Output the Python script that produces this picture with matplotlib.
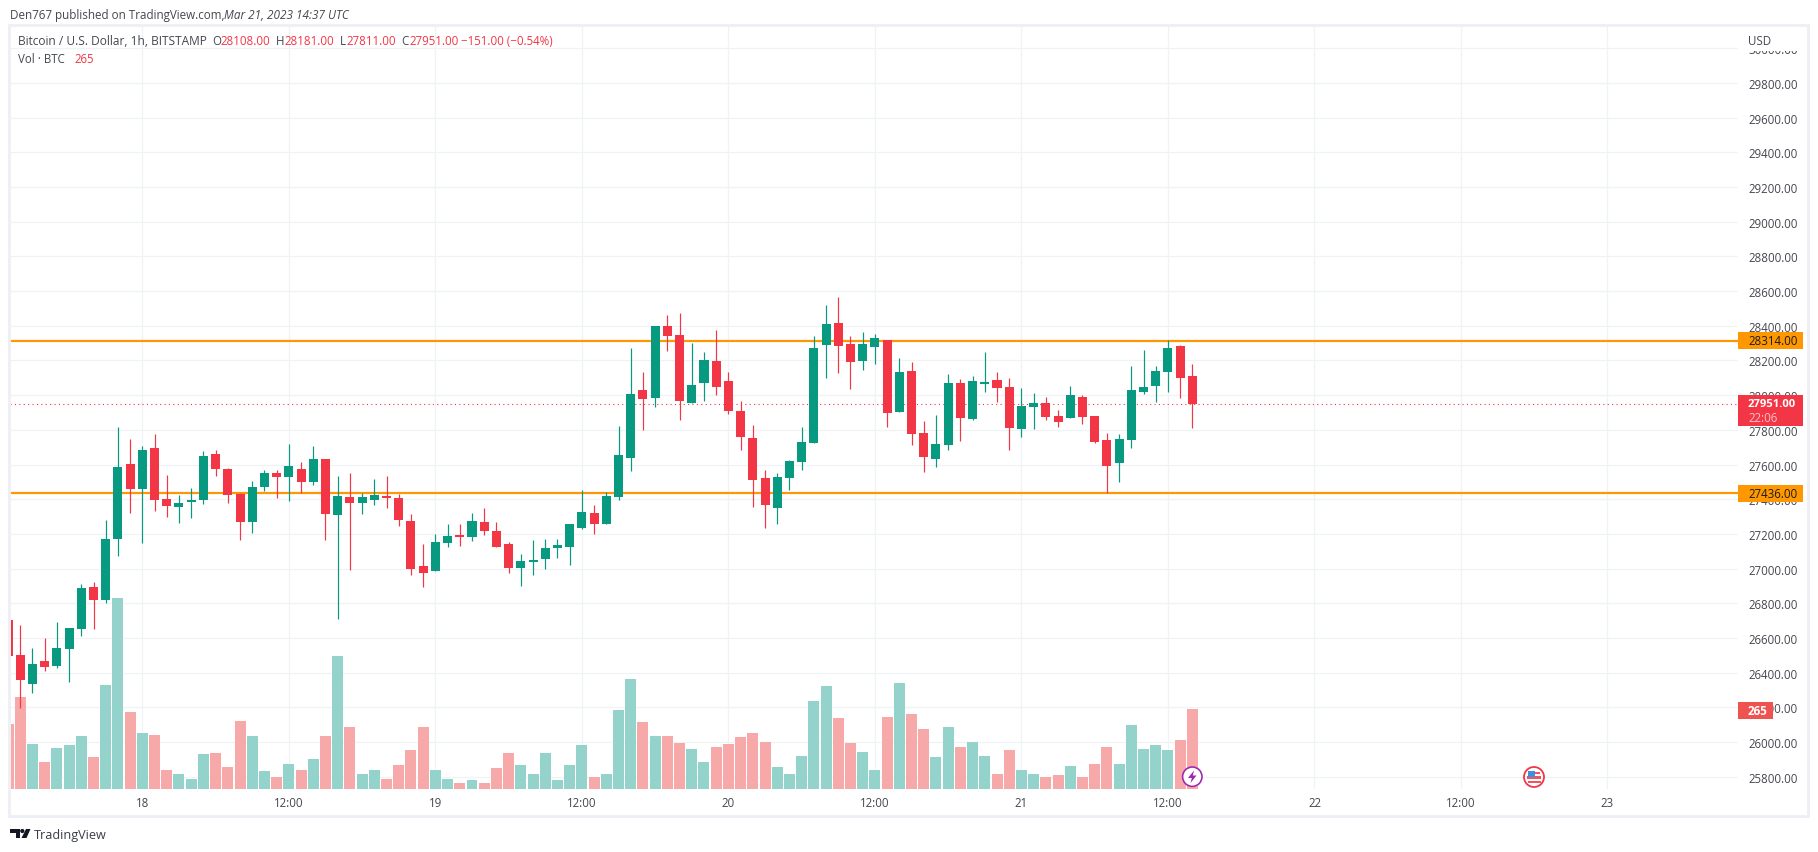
"""Bitcoin / U.S. Dollar 1h candles with volume, TradingView snapshot style."""
import numpy as np
import matplotlib
matplotlib.use("Agg")
import matplotlib.pyplot as plt
from matplotlib.patches import Circle, Polygon, Rectangle

W, H = 1818, 853

# hours from Mar 18 00:00, one candle per hour
hours = list(range(-11, 87))

opens = [26705, 26503, 26336, 26468, 26439, 26537, 26653, 26895, 26820, 27171, 27604, 27459,
         27696, 27402, 27356, 27385, 27396, 27661, 27575, 27431, 27269, 27471, 27552, 27529,
         27575, 27500, 27632, 27310, 27413, 27379, 27396, 27419, 27408, 27275, 27016, 26987,
         27148, 27194, 27183, 27269, 27217, 27143, 27004, 27039, 27056, 27119, 27125, 27235,
         27321, 27258, 27413, 27638, 28030, 27984, 28399, 28347, 27955, 28070, 28197, 28082,
         27909, 27753, 27523, 27350, 27523, 27615, 27725, 28289, 28416, 28295, 28197, 28278,
         28318, 27903, 28140, 27782, 27632, 27713, 28070, 27863, 28065, 28088, 28047, 27805,
         27932, 27955, 27880, 27869, 27990, 27880, 27742, 27609, 27742, 28019, 28053, 28134,
         28284, 28108]
highs = [26705, 26676, 26543, 26601, 26693, 26658, 26912, 26924, 27281, 27817, 27748, 27707,
         27776, 27540, 27425, 27465, 27678, 27684, 27580, 27436, 27506, 27569, 27569, 27719,
         27615, 27707, 27632, 27534, 27552, 27436, 27517, 27534, 27431, 27315, 27143, 27200,
         27258, 27258, 27321, 27350, 27269, 27154, 27085, 27166, 27171, 27171, 27258, 27454,
         27367, 27442, 27823, 28272, 28134, 28399, 28462, 28474, 28301, 28249, 28376, 28134,
         27967, 27828, 27569, 27552, 27627, 27817, 28341, 28520, 28566, 28341, 28364, 28353,
         28318, 28214, 28191, 27851, 27886, 28122, 28093, 28111, 28249, 28134, 28099, 28042,
         28013, 27990, 27915, 28053, 28001, 27880, 27782, 27776, 28168, 28261, 28168, 28318,
         28289, 28181]
lows = [26499, 26197, 26284, 26411, 26428, 26347, 26612, 26653, 26802, 27073, 27321, 27148,
        27333, 27298, 27264, 27292, 27373, 27534, 27379, 27166, 27206, 27448, 27408, 27390,
        27436, 27483, 27166, 26710, 26993, 27315, 27367, 27350, 27246, 26964, 26895, 26987,
        27125, 27131, 27160, 27194, 27125, 26975, 26900, 26964, 26998, 27062, 27021, 27229,
        27200, 27258, 27396, 27564, 27800, 27932, 28255, 27857, 27955, 27967, 28001, 27892,
        27684, 27356, 27235, 27258, 27454, 27569, 27725, 28099, 28128, 28036, 28145, 28180,
        27817, 27903, 27713, 27558, 27586, 27684, 27736, 27857, 28019, 27961, 27684, 27759,
        27805, 27857, 27817, 27869, 27834, 27725, 27436, 27500, 27696, 28007, 27961, 28019,
        27984, 27811]
closes = [26499, 26359, 26451, 26434, 26543, 26658, 26889, 26820, 27171, 27586, 27459, 27684,
          27396, 27361, 27379, 27396, 27650, 27575, 27425, 27269, 27471, 27552, 27529, 27592,
          27500, 27632, 27315, 27419, 27379, 27413, 27425, 27408, 27281, 26998, 26975, 27154,
          27189, 27183, 27275, 27217, 27125, 27004, 27045, 27050, 27119, 27137, 27258, 27327,
          27258, 27419, 27655, 28006, 27978, 28399, 28341, 27967, 28059, 28203, 28047, 27909,
          27759, 27511, 27367, 27529, 27621, 27730, 28272, 28410, 28284, 28191, 28295, 28330,
          27898, 28134, 27777, 27644, 27719, 28070, 27869, 28082, 28076, 28042, 27811, 27938,
          27955, 27874, 27846, 28001, 27874, 27730, 27592, 27748, 28030, 28047, 28140, 28272,
          28099, 27951]
volumes = [214, 307, 150, 90, 134, 144, 174, 104, 347, 638, 254, 187,
           180, 63, 47, 33, 114, 120, 73, 224, 174, 60, 40, 83,
           63, 97, 177, 444, 207, 47, 63, 33, 80, 130, 204, 63,
           33, 17, 30, 17, 70, 120, 77, 47, 120, 30, 80, 144,
           40, 48, 261, 365, 221, 174, 177, 151, 131, 88, 138, 148,
           171, 184, 154, 71, 48, 107, 294, 344, 234, 151, 121, 61,
           238, 351, 248, 198, 104, 204, 138, 154, 107, 48, 127, 63,
           48, 37, 44, 74, 40, 81, 140, 81, 211, 131, 144, 127,
           163, 265]

level_high = 28314
level_low = 27436
last_close = 27951
price_ticks = list(range(25800, 30001, 200))
time_ticks = [0, 12, 24, 36, 48, 60, 72, 84, 96, 108, 120]
time_labels = ["18", "12:00", "19", "12:00", "20", "12:00", "21", "12:00", "22", "12:00", "23"]

UP = "#089981"
DOWN = "#F23645"
UP_VOL = "#94D3CB"
DOWN_VOL = "#F7A8A8"
ORANGE = "#FF9800"
GRID = "#F1F2F5"
FRAME = "#EEF0F6"
TEXT = "#45474F"
RED_TEXT = "#F23645"
FONT = ["Open Sans", "DejaVu Sans"]

plt.rcParams["font.family"] = FONT
PX = 0.72  # points per pixel at dpi 100

fig = plt.figure(figsize=(W / 100, H / 100), dpi=100, facecolor="white")
rect = [10 / W, 1 - 789.5 / H, (1738 - 10) / W, (789.5 - 26.5) / H]
ax = fig.add_axes(rect)
ax_vol = ax.twinx()

ax.set_xlim(-10.84, 130.69)
ax.set_ylim(25733.1, 30130.8)
ax_vol.set_ylim(0, 2550)

ax_vol.set_zorder(1)
ax.set_zorder(2)
ax.patch.set_visible(False)
ax_vol.axis("off")
for sp in ax.spines.values():
    sp.set_visible(False)

# grid goes under the volume bars
ax_vol.hlines(price_ticks, -10.84, 130.69, color=GRID, lw=1.3 * PX, transform=ax.transData, zorder=0)
ax_vol.vlines(time_ticks, 0, 2550, color=GRID, lw=1.3 * PX, zorder=0)

t = np.array(hours)
o = np.array(opens)
c = np.array(closes)
rising = c >= o

ax_vol.bar(t, volumes, width=0.9, color=[UP_VOL if r else DOWN_VOL for r in rising], linewidth=0, zorder=1)

ax.axhline(last_close, color=DOWN, lw=1.1 * PX, ls=(0, (1, 3)), zorder=1)
ax.axhline(level_high, color=ORANGE, lw=2.2 * PX, zorder=2)
ax.axhline(level_low, color=ORANGE, lw=2.2 * PX, zorder=2)

colors = [UP if r else DOWN for r in rising]
ax.vlines(t, lows, highs, color=colors, lw=1.2 * PX, zorder=3)
ax.bar(t, np.abs(c - o), bottom=np.minimum(o, c), width=0.74, color=colors, linewidth=0, zorder=4)

ax.yaxis.tick_right()
ax.set_yticks(price_ticks)
ax.set_yticklabels([f"{p:.2f}" for p in price_ticks], ha="left")
ax.tick_params(axis="y", length=0, pad=10 * PX, labelsize=8.3, labelcolor=TEXT)
ax.set_xticks(time_ticks)
ax.set_xticklabels(time_labels)
ax.tick_params(axis="x", length=0, pad=8 * PX, labelsize=8.3, labelcolor=TEXT)

# overlay in pixel coordinates for the frame, labels and header
ov = fig.add_axes([0, 0, 1, 1])
ov.set_zorder(3)
ov.set_xlim(0, W)
ov.set_ylim(H, 0)
ov.axis("off")


def put(x, y, s, color=TEXT, size=8.3, **kw):
    ov.text(x, y, s, color=color, fontsize=size, va="center", ha=kw.pop("ha", "left"), **kw)


def box(x0, y0, x1, y1, color):
    ov.add_patch(Rectangle((x0, y0), x1 - x0, y1 - y0, facecolor=color, edgecolor="none"))


ov.add_patch(Rectangle((9, 26), 1799, 791, fill=False, edgecolor=FRAME, lw=3 * PX))

box(1740, 28, 1806, 51.8, "white")
put(1748, 41, "USD")

box(1738, 332.8, 1803, 349.7, ORANGE)
put(1748, 341.5, "28314.00", color="#1A1A1A")
box(1738, 485.9, 1803, 502.8, ORANGE)
put(1748, 494.5, "27436.00", color="#1A1A1A")
box(1738, 396, 1803, 427, DOWN)
put(1748, 404.5, "27951.00", color="white", fontweight="bold", size=8.1)
put(1748, 418.5, "22:06", color="#FBC4CA")
box(1738, 703, 1773, 720, "#EF5350")
put(1748, 711.5, "265", color="white", fontweight="bold")

# header
put(10, 15, "Den767 published on TradingView.com,", size=8.35)
put(224, 15, "Mar 21, 2023 14:37 UTC", size=8.5, style="italic")

put(18, 41, "Bitcoin / U.S. Dollar, 1h, BITSTAMP", size=8.6)
for x_key, key, x_val, val in [
    (212, "O", 220.5, "28108.00"),
    (276, "H", 284.5, "28181.00"),
    (340, "L", 346, "27811.00"),
    (401, "C", 409, "27951.00"),
]:
    put(x_key, 41, key)
    put(x_val, 41, val, color=RED_TEXT)
put(461, 41, "\u2212151.00 (\u22120.54%)", color=RED_TEXT)
put(18, 59, "Vol \u00b7 BTC")
put(74, 59, "265", color=RED_TEXT)

# TradingView logo
ov.add_patch(Polygon([(10, 830), (20, 830), (20, 839), (15.5, 839), (15.5, 834), (10, 834)], color="#131722", lw=0))
ov.add_patch(Circle((22.3, 832), 2.1, color="#131722", lw=0))
ov.add_patch(Polygon([(26, 830), (30.5, 830), (26.5, 839), (21.5, 839)], color="#131722", lw=0))
put(34, 835.5, "TradingView", size=9.1, color="#3A3D46")

# event icons
ov.add_patch(Circle((1192.3, 777.7), 9.7, facecolor="white", edgecolor="#9C27B0", lw=1.6 * PX))
ov.add_patch(Polygon([(1194, 771.5), (1188, 779), (1191.8, 779), (1190.5, 784), (1196.5, 776.5), (1192.8, 776.5)],
                     color="#9C27B0", lw=0))
ov.add_patch(Circle((1534, 778), 10, facecolor="white", edgecolor=DOWN, lw=1.8 * PX))
box(1527, 777, 1541, 779.5, "#F0545F")
box(1527.5, 782, 1540.5, 784, "#F0545F")
box(1528, 771.5, 1535, 778, "#3D8FE0")
box(1535, 773, 1540, 775, "#F0545F")

fig.savefig("out.png", dpi=100, facecolor="white")
